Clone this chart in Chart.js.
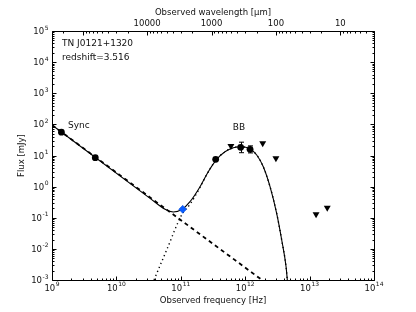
<!DOCTYPE html>
<html>
<head>
<meta charset="utf-8">
<script src="https://cdn.jsdelivr.net/npm/chart.js@4/dist/chart.umd.min.js"></script>
<style>
html,body{margin:0;padding:0;background:#fff;}
#c{display:block;}
</style>
</head>
<body>
<canvas id="c" width="416" height="312"></canvas>
<script>
// ---- data ----
const syncFreq = [1.4e9, 4.7e9];
const syncFlux = [56, 8.5];
const diamondFreq = [1.07e11];
const diamondFlux = [0.187];
const bbFreq = [3.48e11, 8.5e11, 1.19e12];
const bbFlux = [7.55, 18.3, 15.8];
const bbErrLo = [null, 12.3, 12.1];
const bbErrHi = [null, 26.8, 20.4];
const limFreq = [6.0e11, 1.87e12, 3.0e12, 1.26e13, 1.88e13];
const limFlux = [20.2, 24.7, 8.1, 0.129, 0.21];

const totalFreq = [1e9, 3.33e10, 5.69e10, 7.66e10, 1.05e11, 1.39e11, 1.99e11, 2.67e11, 3.61e11, 4.85e11, 6.53e11, 8.51e11, 1.19e12, 1.51e12, 1.91e12, 2.43e12, 3.08e12, 3.69e12, 4.31e12, 4.51e12];
const totalFlux = [95.5, 0.42, 0.187, 0.153, 0.187, 0.328, 0.995, 3.02, 7.55, 13.2, 17.8, 19.2, 16.2, 10.4, 4.37, 1.0, 0.139, 0.0193, 0.00267, 0.001];
const syncModelFreq = [1e9, 1.82e12];
const syncModelFlux = [95.5, 0.001];
const bbModelFreq = [3.84e10, 6.0e10, 1.05e11, 1.39e11, 1.99e11, 2.67e11, 3.61e11, 4.85e11, 6.53e11, 8.51e11, 1.19e12, 1.51e12, 1.91e12, 2.43e12, 3.08e12, 3.69e12, 4.31e12, 4.51e12];
const bbModelFlux = [0.001, 0.009, 0.132, 0.27, 0.95, 3.0, 7.55, 13.2, 17.8, 19.2, 16.2, 10.4, 4.37, 1.0, 0.139, 0.0193, 0.00267, 0.001];

const freqTickExps = [9, 10, 11, 12, 13, 14];
const fluxTickExps = [-3, -2, -1, 0, 1, 2, 3, 4, 5];
const waveTickLabels = [10000, 1000, 100, 10];

const titleLines = ['TN J0121+1320', 'redshift=3.516'];
const xTitle = 'Observed frequency [Hz]';
const yTitle = 'Flux [mJy]';
const x2Title = 'Observed wavelength [\u03bcm]';
const syncLabel = {text: 'Sync', x: 1.77e9, y: 88};
const bbLabel = {text: 'BB', x: 8.0e11, y: 76};

const pts = (xs, ys) => xs.map((x, i) => ({x: x, y: ys[i]}));
const FONT = '"DejaVu Sans", sans-serif';
const TXT = '#111';

function drawPow(ctx, exp, x, y, align) {
  ctx.save();
  ctx.fillStyle = TXT;
  ctx.textBaseline = 'alphabetic';
  ctx.font = '8.5px ' + FONT;
  const wb = ctx.measureText('10').width;
  ctx.font = '6px ' + FONT;
  const es = String(exp);
  const we = ctx.measureText(es).width;
  const total = wb + we + 0.5;
  let x0 = align === 'right' ? x - total : x - total / 2;
  ctx.font = '8.5px ' + FONT;
  ctx.textAlign = 'left';
  ctx.fillText('10', x0, y + 3);
  ctx.font = '6px ' + FONT;
  ctx.fillText(es, x0 + wb + 0.5, y - 1.5);
  ctx.restore();
}

const axesPlugin = {
  id: 'axesPlugin',
  afterDatasetsDraw(chart) {
    const ctx = chart.ctx;
    const xs = chart.scales.x, ys = chart.scales.y;
    ctx.save();
    ctx.strokeStyle = '#000';
    ctx.lineWidth = 1;
    bbFreq.forEach((f, i) => {
      if (bbErrLo[i] == null) return;
      const px = Math.round(xs.getPixelForValue(f)) + 0.5;
      const yl = ys.getPixelForValue(bbErrLo[i]);
      const yh = ys.getPixelForValue(bbErrHi[i]);
      ctx.beginPath();
      ctx.moveTo(px, yl); ctx.lineTo(px, yh);
      ctx.moveTo(px - 2.5, yl); ctx.lineTo(px + 2.5, yl);
      ctx.moveTo(px - 2.5, yh); ctx.lineTo(px + 2.5, yh);
      ctx.stroke();
    });
    ctx.restore();
  },
  afterDraw(chart) {
    const ctx = chart.ctx;
    const a = chart.chartArea;
    const xs = chart.scales.x, ys = chart.scales.y, x2 = chart.scales.x2;
    const L = Math.round(a.left) + 0.5, R = Math.round(a.right) + 0.5;
    const T = Math.round(a.top) + 0.5, B = Math.round(a.bottom) + 0.5;
    ctx.save();
    ctx.strokeStyle = '#000';
    ctx.lineWidth = 1;
    ctx.beginPath();
    const vtick = (px, len) => { ctx.moveTo(px, B); ctx.lineTo(px, B - len); };
    const htick = (py, len) => { ctx.moveTo(L, py); ctx.lineTo(L + len, py); ctx.moveTo(R, py); ctx.lineTo(R - len, py); };
    for (let e = freqTickExps[0]; e <= freqTickExps[freqTickExps.length - 1]; e++) {
      for (let k = 1; k <= 9; k++) {
        const v = k * Math.pow(10, e);
        if (v > 1e14 * 1.0001) continue;
        const px = Math.round(xs.getPixelForValue(v)) + 0.5;
        vtick(px, k === 1 ? 4 : 2);
      }
    }
    for (let e = fluxTickExps[0]; e <= fluxTickExps[fluxTickExps.length - 1]; e++) {
      for (let k = 1; k <= 9; k++) {
        const v = k * Math.pow(10, e);
        if (v > 1e5 * 1.0001) continue;
        const py = Math.round(ys.getPixelForValue(v)) + 0.5;
        htick(py, k === 1 ? 4 : 2);
      }
    }
    for (let e = 0; e <= 5; e++) {
      for (let k = 1; k <= 9; k++) {
        const v = k * Math.pow(10, e);
        if (v < x2.min || v > x2.max) continue;
        const px = Math.round(x2.getPixelForValue(v)) + 0.5;
        ctx.moveTo(px, T); ctx.lineTo(px, T + (k === 1 ? 4 : 2));
      }
    }
    ctx.stroke();
    ctx.beginPath();
    ctx.rect(L, T, R - L, B - T);
    ctx.stroke();

    freqTickExps.forEach(e => drawPow(ctx, e, xs.getPixelForValue(Math.pow(10, e)), B + 7, 'center'));
    fluxTickExps.forEach(e => drawPow(ctx, e, L - 4, ys.getPixelForValue(Math.pow(10, e)), 'right'));
    ctx.fillStyle = TXT;
    ctx.font = '8.5px ' + FONT;
    ctx.textAlign = 'center';
    ctx.textBaseline = 'middle';
    waveTickLabels.forEach(w => ctx.fillText(String(w), x2.getPixelForValue(w), T - 8));

    ctx.font = '8.5px ' + FONT;
    ctx.fillText(xTitle, (a.left + a.right) / 2, B + 20);
    ctx.fillText(x2Title, (a.left + a.right) / 2, T - 19);
    ctx.save();
    ctx.translate(L - 31, (a.top + a.bottom) / 2);
    ctx.rotate(-Math.PI / 2);
    ctx.fillText(yTitle, 0, 0);
    ctx.restore();

    ctx.font = '9px ' + FONT;
    ctx.textAlign = 'left';
    ctx.fillText(titleLines[0], a.left + 0.031 * (a.right - a.left), a.top + 0.052 * (a.bottom - a.top));
    ctx.fillText(titleLines[1], a.left + 0.031 * (a.right - a.left), a.top + 0.109 * (a.bottom - a.top));
    ctx.fillText(syncLabel.text, xs.getPixelForValue(syncLabel.x), ys.getPixelForValue(syncLabel.y));
    ctx.textAlign = 'center';
    ctx.fillText(bbLabel.text, xs.getPixelForValue(bbLabel.x), ys.getPixelForValue(bbLabel.y));
    ctx.restore();
  }
};

new Chart(document.getElementById('c'), {
  type: 'scatter',
  data: {
    datasets: [
      {data: pts(syncFreq, syncFlux), pointStyle: 'circle', pointRadius: 3.4, backgroundColor: '#000', borderColor: '#000', borderWidth: 0, order: 0},
      {data: pts(bbFreq, bbFlux), pointStyle: 'circle', pointRadius: 3.4, backgroundColor: '#000', borderColor: '#000', borderWidth: 0, order: 0},
      {data: pts(limFreq, limFlux), pointStyle: 'triangle', rotation: 180, pointRadius: 4, backgroundColor: '#000', borderColor: '#000', borderWidth: 0, order: 0},
      {data: pts(diamondFreq, diamondFlux), pointStyle: 'rectRot', pointRadius: 4, backgroundColor: '#0a5cff', borderColor: '#0a4fd0', borderWidth: 0.5, order: 0},
      {data: pts(totalFreq, totalFlux), showLine: true, pointRadius: 0, borderColor: '#000', borderWidth: 1.1, cubicInterpolationMode: 'monotone', order: 1},
      {data: pts(syncModelFreq, syncModelFlux), showLine: true, pointRadius: 0, borderColor: '#000', borderWidth: 1.8, borderDash: [4, 3.5], order: 2},
      {data: pts(bbModelFreq, bbModelFlux), showLine: true, pointRadius: 0, borderColor: '#000', borderWidth: 1.4, borderDash: [1.3, 3], cubicInterpolationMode: 'monotone', order: 3}
    ]
  },
  options: {
    responsive: false,
    animation: false,
    devicePixelRatio: 1,
    layout: {padding: {left: 52, right: 42, top: 31, bottom: 32}},
    plugins: {legend: {display: false}, tooltip: {enabled: false}},
    scales: {
      x: {type: 'logarithmic', min: 1e9, max: 1e14, display: false},
      y: {type: 'logarithmic', min: 1e-3, max: 1e5, display: false},
      x2: {type: 'logarithmic', min: 3, max: 3e5, reverse: true, display: false, position: 'top'}
    }
  },
  plugins: [axesPlugin]
});
</script>
</body>
</html>
